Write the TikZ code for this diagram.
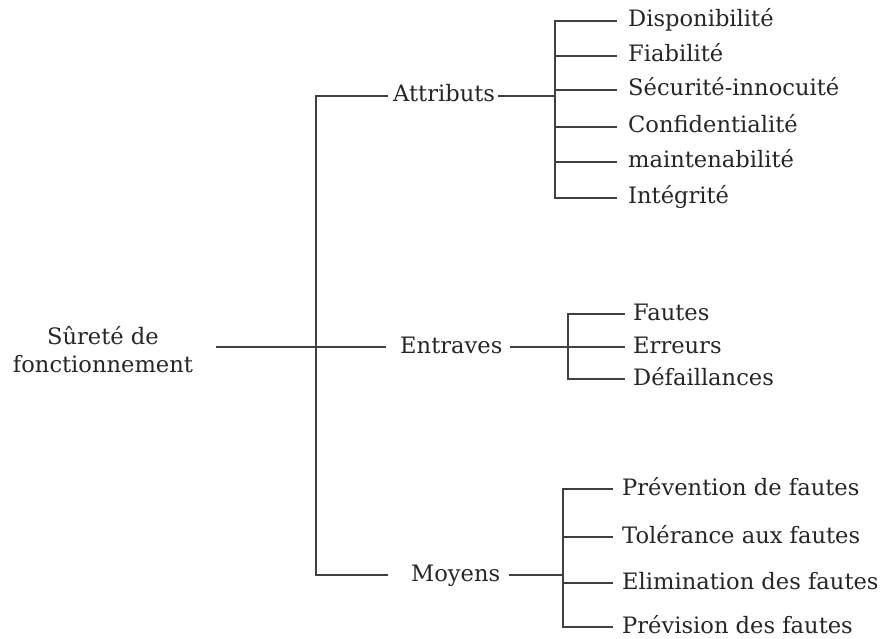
\documentclass[tikz,border=0pt]{standalone}
\usepackage{fontspec}
\setmainfont{DejaVu Serif}
\usepackage{tikz}
\usetikzlibrary{calc,positioning}
\tikzset{
    item/.style={
        anchor=west,
        inner sep=0pt,
        text height=15pt,
        text depth=3pt,
        font={\fontsize{22.6pt}{28pt}\selectfont},
        text=black!85
    },
    rootlbl/.style={
        align=center,
        inner sep=0pt,
        font={\fontsize{22.6pt}{28pt}\selectfont},
        text=black!85
    },
    branch/.style={draw=black!75, line width=2pt},
    heavy/.style={draw=black!75, line width=2.8pt},
}
\begin{document}
\begin{tikzpicture}[x=1pt,y=-1pt]
    \useasboundingbox (0,0) rectangle (881,639);
    % root and first level
    \node[rootlbl] (sdf) at (103,350) {Sûreté de\\fonctionnement};
    \coordinate (trunk) at (316,347);
    \node[item] (attr) at (393,96) {Attributs};
    \node[item] (entr) at (400,347) {Entraves};
    \node[item] (moy) at (411,575) {Moyens};
    \draw[branch] ($(sdf.east |- trunk)+(23,0)$) -- (trunk);
    \draw[branch] ([xshift=-5pt]attr.west) -| (trunk) |- ([xshift=-23pt]moy.west);
    \draw[branch] (trunk) -- ([xshift=-14pt]entr.west);

    % Attributs
    \coordinate (afork) at (555,96);
    \node[item] (dispo) at (628,21) {Disponibilité};
    \node[item] (fiab) at (628,56) {Fiabilité};
    \node[item] (secu) at (628,90) {Sécurité-innocuité};
    \node[item] (conf) at (628,127) {Confidentialité};
    \node[item] (maint) at (628,162) {maintenabilité};
    \node[item] (integ) at (628,198) {Intégrité};
    \draw[heavy] ([xshift=3pt]attr.east) -- (afork);
    \draw[branch] ([xshift=-11pt]dispo.west) -| (afork) |- ([xshift=-11pt]integ.west);
    \draw[branch] (afork |- fiab) -- ([xshift=-11pt]fiab.west);
    \draw[branch] (afork |- secu) -- ([xshift=-11pt]secu.west);
    \draw[branch] (afork |- conf) -- ([xshift=-11pt]conf.west);
    \draw[branch] (afork |- maint) -- ([xshift=-11pt]maint.west);

    % Entraves
    \coordinate (efork) at (568,347);
    \node[item] (faut) at (633,314) {Fautes};
    \node[item] (err) at (633,347) {Erreurs};
    \node[item] (defa) at (633,379) {Défaillances};
    \draw[heavy] ([xshift=7pt]entr.east) -- (efork);
    \draw[branch] ([xshift=-8pt]faut.west) -| (efork) |- ([xshift=-8pt]defa.west);
    \draw[branch] (efork) -- ([xshift=-8pt]err.west);

    % Moyens
    \coordinate (mfork) at (563,575);
    \node[item] (prev) at (622,489) {Prévention de fautes};
    \node[item] (tol) at (622,537) {Tolérance aux fautes};
    \node[item] (elim) at (622,583) {Elimination des fautes};
    \node[item] (prevs) at (622,627) {Prévision des fautes};
    \draw[heavy] ([xshift=9pt]moy.east) -- (mfork);
    \draw[branch] ([xshift=-9pt]prev.west) -| (mfork) |- ([xshift=-9pt]prevs.west);
    \draw[branch] (mfork |- tol) -- ([xshift=-9pt]tol.west);
    \draw[branch] (mfork |- elim) -- ([xshift=-9pt]elim.west);
\end{tikzpicture}
\end{document}
